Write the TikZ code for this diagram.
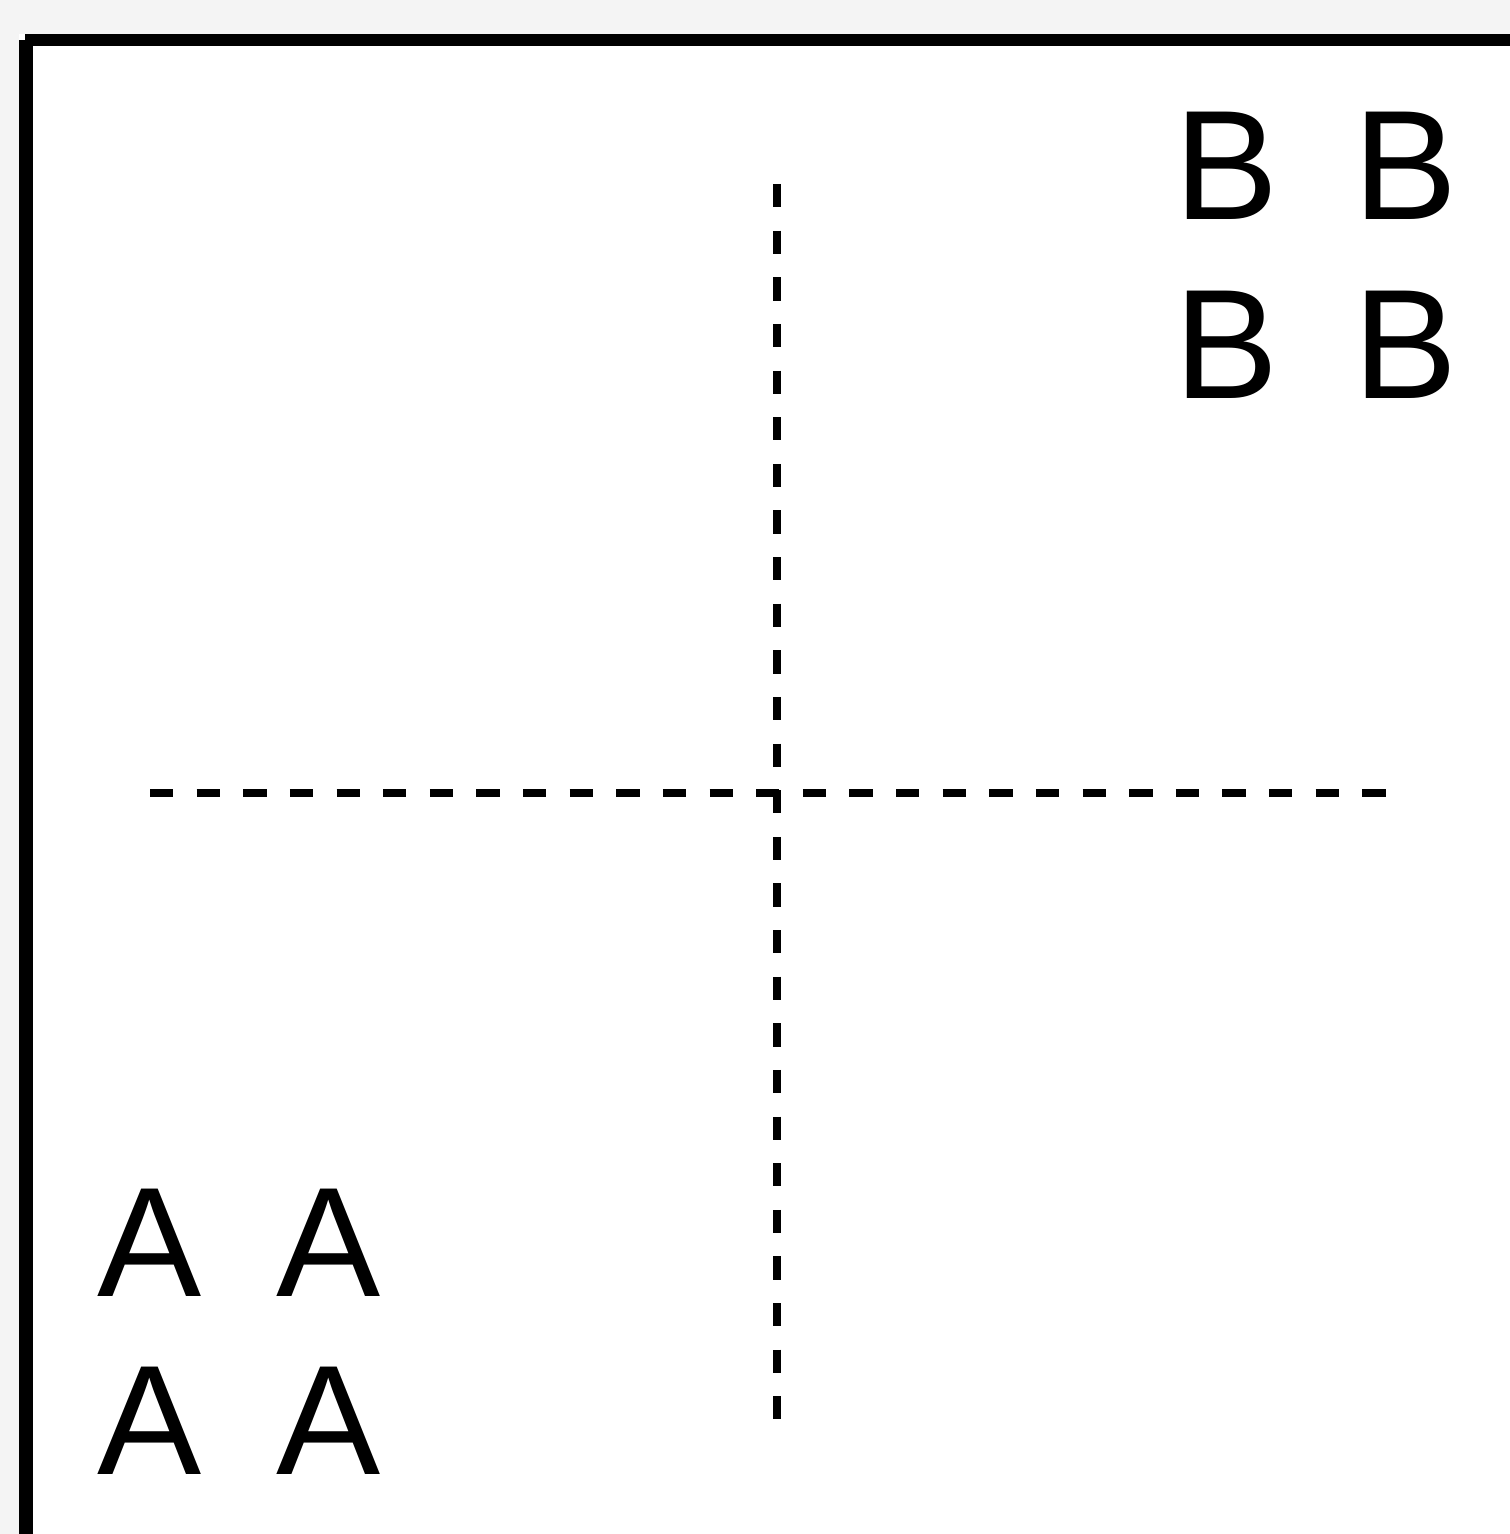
\documentclass[tikz,border=0pt]{standalone}
\usepackage{fontspec}
\setmainfont{Liberation Sans}
\usepackage{tikz}
\usetikzlibrary{positioning}
\definecolor{pagegray}{HTML}{F4F4F4}

\begin{document}
\begin{tikzpicture}[x=0.01cm,y=-0.01cm,every node/.style={inner sep=0pt,anchor=base,font=\fontsize{44.4}{50}\selectfont},
  frameline/.style={line width=0.13cm},
  crossline/.style={line width=0.08cm,dash pattern=on 0.233cm off 0.233cm}]
      \useasboundingbox (0,0) rectangle (1510,1534);
      \fill[pagegray] (0,0) rectangle (1510,1534);
      \fill[white] (19,34) rectangle (1510,1534);
      \draw[frameline,line width=0.12cm] (25,40)--(1510,40);
      \draw[frameline,line width=0.14cm] (26,40)--(26,1534);
      \coordinate (hl) at (150,793);
      \coordinate (hr) at (1386,793);
      \coordinate (vt) at (777,184);
      \coordinate (vb) at (777,1419);
      \draw[crossline] (hl)--(hr);
      \draw[crossline] (vt)--(vb);
      \node (b1) at (1227,220) {B};
      \node (b2) at (1406,220) {B};
      \node (b3) at (1227,399) {B};
      \node (b4) at (1406,399) {B};
      \node (a1) at (150,1296) {A};
      \node (a2) at (329,1296) {A};
      \node (a3) at (150,1474) {A};
      \node (a4) at (329,1474) {A};
    \end{tikzpicture}
\end{document}
